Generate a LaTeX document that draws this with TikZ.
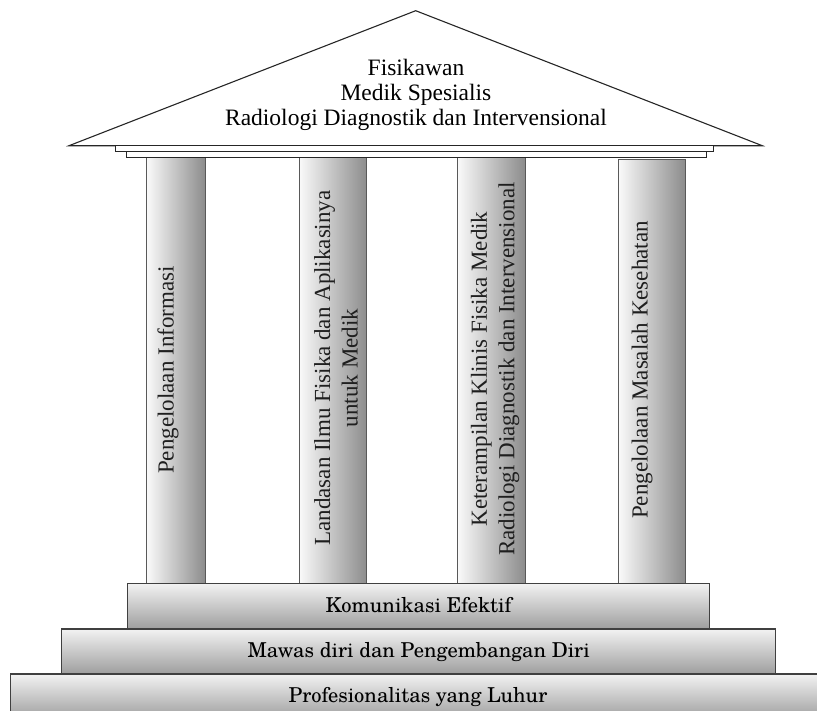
\documentclass[tikz,border=0pt]{standalone}
\usepackage{fontspec}
\setmainfont{Liberation Serif}
\newfontfamily\schola{texgyreschola-regular.otf}
\begin{document}
\begin{tikzpicture}[x=1pt,y=-1pt,
  roofline/.style={draw=black!85, line width=1.1pt, fill=white, line join=miter},
  ledge/.style={draw=black!85, line width=0.9pt, fill=white},
  pillar/.style={rectangle, draw=black!65, line width=1pt, left color=black!2, right color=black!45, inner sep=0pt},
  stepbox/.style={rectangle, draw=black!75, line width=1.3pt, top color=black!5, bottom color=black!38, inner sep=0pt, font=\schola\fontsize{20.5}{24}\selectfont, text depth=0.22em},
  rooftext/.style={font=\fontsize{23.5}{25}\selectfont, align=center, inner sep=0pt},
  pillartext/.style={font=\fontsize{23}{27.5}\selectfont, align=center, inner sep=0pt, rotate=90, text=black!88}
]
\useasboundingbox (0,0) rectangle (817,710);
% pillars
\node[pillar, minimum width=58.3pt, minimum height=426pt] (p1) at (175.85,370.3) {};
\node[pillar, minimum width=67.7pt, minimum height=426pt] (p2) at (332.85,370.3) {};
\node[pillar, minimum width=67.7pt, minimum height=426pt] (p3) at (491.15,370.3) {};
\node[pillar, minimum width=66.7pt, minimum height=424pt] (p4) at (651.65,371.3) {};
% roof
\draw[roofline] (69,145.7) -- (415.7,10.7) -- (762.3,145.7) -- cycle;
\draw[ledge] (115.7,145.7) rectangle (713.3,151.7);
\draw[ledge] (126.7,151.7) rectangle (706.7,157.3);
\node[rooftext] (title) at (416,95) {Fisikawan\\Medik Spesialis\\Radiologi Diagnostik dan Intervensional};
% pillar texts
\node[pillartext] (t1) at (168,370) {Pengelolaan Informasi};
\node[pillartext] (t2) at (336,368) {Landasan Ilmu Fisika dan Aplikasinya\\untuk Medik};
\node[pillartext] (t3) at (495,369) {Keterampilan Klinis Fisika Medik\\Radiologi Diagnostik dan Intervensional};
\node[pillartext] (t4) at (642,370) {Pengelolaan Masalah Kesehatan};
% steps
\node[stepbox, minimum width=581.6pt, minimum height=45.7pt] (s1) at (418.5,606.2) {Komunikasi Efektif};
\node[stepbox, minimum width=714pt, minimum height=45pt] (s2) at (418.7,651.5) {Mawas diri dan Pengembangan Diri};
\node[stepbox, minimum width=814.6pt, minimum height=45pt] (s3) at (418,696.5) {Profesionalitas yang Luhur};
\end{tikzpicture}
\end{document}
